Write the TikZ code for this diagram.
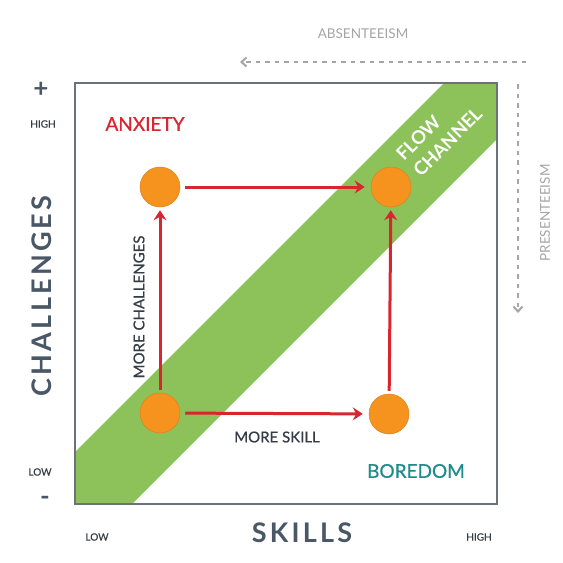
\documentclass[tikz,border=0pt]{standalone}
\usepackage{fontspec}
\setmainfont{Lato}
\newfontfamily\medfont{Lato}[FakeBold=0.6]
\usetikzlibrary{arrows.meta}
\definecolor{slate}{HTML}{4A5766}
\definecolor{darktxt}{HTML}{343C46}
\definecolor{lightgr}{HTML}{A5A5A5}
\definecolor{redarr}{HTML}{D9252F}
\definecolor{tealtxt}{HTML}{1E8A8C}
\definecolor{bandgreen}{HTML}{8DC15A}
\definecolor{dotorange}{HTML}{F6921E}
\definecolor{framegr}{HTML}{6B7279}
\tikzset{
  dot/.style={circle, fill=dotorange, draw=dotorange!90!black, line width=0.5pt, minimum size=40pt, inner sep=0pt},
  redarrow/.style={draw=redarr, line width=3pt, -{Stealth[length=10pt,width=13pt,inset=3.5pt]}},
  grayarrow/.style={draw=lightgr, line width=2.6pt, dash pattern=on 4.5pt off 5pt, -{Straight Barb[length=5pt,width=9pt,line width=2pt]}},
  smalltxt/.style={text=darktxt, font=\fontsize{10}{12}\selectfont\medfont, inner sep=0pt},
  bigaxis/.style={text=slate, font=\fontsize{27}{30}\selectfont\bfseries\addfontfeatures{LetterSpace=12}, inner sep=0pt},
  flowtxt/.style={text=white, rotate=45, anchor=base west, font=\fontsize{18.5}{23}\selectfont\bfseries, inner sep=0pt},
}
\begin{document}
\begin{tikzpicture}[x=1pt,y=-1pt]
\useasboundingbox[fill=white] (0,0) rectangle (563,563);
% frame corners
\coordinate (tl) at (75,83);
\coordinate (br) at (497,504);
% green band
\fill[bandgreen] (75,452) -- (75,504) -- (132,504) -- (497,139) -- (497,83) -- (444,83) -- cycle;
\draw[framegr, line width=2pt] (tl) rectangle (br);
% labels in band
\node[flowtxt] (flow) at (404,162) {FLOW};
\node[flowtxt] (chan) at (421,178) {CHANNEL};
% dots
\node[dot] (a) at (160,187) {};
\node[dot] (b) at (391,187) {};
\node[dot] (c) at (160,413) {};
\node[dot] (d) at (389,414) {};
% red arrows
\draw[redarrow, shorten <=5pt, shorten >=6pt] (a) -- (b);
\draw[redarrow, shorten <=5pt, shorten >=6pt] (c) -- (d);
\draw[redarrow, shorten <=3pt, shorten >=3pt] (c) -- (a);
\draw[redarrow, shorten <=3pt, shorten >=3pt] (d) -- (b);
% inner texts
\node[text=redarr, font=\fontsize{19}{20}\selectfont\medfont, inner sep=0pt] (anx) at (145,124) {ANXIETY};
\node[text=tealtxt, font=\fontsize{19}{20}\selectfont\medfont, inner sep=0pt] (bore) at (416,471) {BOREDOM};
\node[text=darktxt, font=\fontsize{15}{16}\selectfont\medfont, inner sep=0pt] (ms) at (277,437) {MORE SKILL};
\node[text=darktxt, font=\fontsize{15}{16}\selectfont\medfont, inner sep=0pt, rotate=90] (mc) at (139,307) {MORE CHALLENGES};
% axes
\node[bigaxis, rotate=90] (chal) at (42,296) {CHALLENGES};
\node[bigaxis] (sk) at (302,533) {SKILLS};
\node[text=slate, font=\fontsize{26}{26}\selectfont\bfseries, inner sep=0pt] (plus) at (41,90) {+};
\node[text=slate, font=\fontsize{26}{26}\selectfont\bfseries, inner sep=0pt] (minus) at (45,501) {-};
\node[smalltxt] (hi1) at (43,124) {HIGH};
\node[smalltxt] (lo1) at (40,472) {LOW};
\node[smalltxt] (lo2) at (97,537) {LOW};
\node[smalltxt] (hi2) at (479,537) {HIGH};
% absenteeism / presenteeism
\coordinate (t1) at (526,62);
\coordinate (t2) at (240,62);
\draw[grayarrow] (t1) -- (t2);
\node[text=lightgr, font=\fontsize{13.5}{14}\selectfont, inner sep=0pt] (abs) at (363,34) {ABSENTEEISM};
\coordinate (r1) at (518,84);
\coordinate (r2) at (518,313);
\draw[grayarrow] (r1) -- (r2);
\node[text=lightgr, font=\fontsize{13.5}{14}\selectfont, inner sep=0pt, rotate=90] (pres) at (545,213) {PRESENTEEISM};
\end{tikzpicture}
\end{document}
